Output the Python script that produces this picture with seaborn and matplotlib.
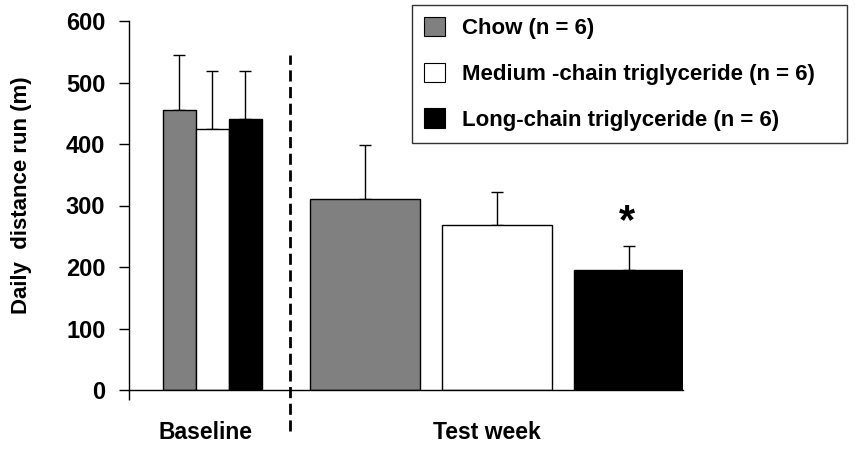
import matplotlib
matplotlib.use("Agg")
import matplotlib.pyplot as plt
import matplotlib.patches as mpatches
import seaborn as sns
import pandas as pd

# values (mean and upward SEM)
diets = ["Chow (n = 6)", "Medium -chain triglyceride (n = 6)", "Long-chain triglyceride (n = 6)"]
colors = ["#808080", "#ffffff", "#000000"]
baseline_mean = [455, 425, 441]
baseline_err = [90, 94, 77]
test_mean = [311, 269, 195]
test_err = [88, 53, 39]
phases = ["Baseline", "Test week"]

sns.set_theme(style="white")
plt.rcParams["font.family"] = ["Liberation Sans", "DejaVu Sans"]
plt.rcParams["font.weight"] = "bold"
for key in ["text.color", "axes.labelcolor", "xtick.color", "ytick.color"]:
    plt.rcParams[key] = "black"

# layout: x units are pixels from the y axis
phase_center = {"Baseline": 83, "Test week": 368}
phase_step = {"Baseline": 33, "Test week": 132}
phase_width = {"Baseline": 33, "Test week": 110}

rows = []
for phase, means, errs in [("Baseline", baseline_mean, baseline_err),
                           ("Test week", test_mean, test_err)]:
    for i, (d, m, e) in enumerate(zip(diets, means, errs)):
        rows.append({"phase": phase, "diet": d, "value": m, "err": e,
                     "pos": phase_center[phase] + (i - 1) * phase_step[phase]})
df = pd.DataFrame(rows)

fig = plt.figure(figsize=(8.55, 4.55), dpi=100)
ax = fig.add_axes([129 / 855, 65 / 455, 554 / 855, 369 / 455])

pal = dict(zip(diets, colors))
for phase in phases:
    sub = df[df.phase == phase]
    for _, r in sub.iterrows():
        ax.bar(r.pos, r.value, width=phase_width[phase], color=pal[r.diet],
               edgecolor="black", linewidth=1, zorder=2)
    ax.errorbar(sub.pos, sub.value, yerr=[[0] * len(sub), sub.err], fmt="none",
                ecolor="black", elinewidth=1, capsize=4.5, capthick=1, zorder=1)

# significance marker over the long-chain test-week bar
lct = df[(df.phase == "Test week") & (df.diet == diets[2])].iloc[0]
ax.text(lct.pos - 2, lct.value + lct.err + 6, "*", ha="center", va="bottom",
        fontsize=30, fontweight="bold")

ax.set_xlim(0, 554)
ax.set_ylim(0, 600)
ax.set_yticks(range(0, 601, 100))
ax.set_xticks([0])
ax.set_xticklabels([""])
ax.tick_params(axis="y", direction="out", length=7, width=1, color="black",
               labelsize=17, pad=10, left=True, labelcolor="black")
ax.tick_params(axis="x", direction="out", length=7, width=1, color="black", bottom=True)
for lab in ax.get_yticklabels():
    lab.set_fontweight("bold")
ax.set_ylabel("Daily  distance run (m)", fontsize=16, fontweight="bold", color="black")
ax.yaxis.set_label_coords(-0.175, 0.528)
sns.despine(ax=ax)
for s in ["left", "bottom"]:
    ax.spines[s].set_color("black")
    ax.spines[s].set_linewidth(1)

# group labels and divider
ax.text(phase_center["Baseline"] - 7, -69, "Baseline", ha="center", va="center",
        fontsize=16.5, fontweight="bold", color="black", clip_on=False)
ax.text(phase_center["Test week"] - 10, -69, "Test week", ha="center", va="center",
        fontsize=16.5, fontweight="bold", color="black", clip_on=False)
ax.plot([161, 161], [-66, 544], color="black", linestyle=(0, (4, 2)), linewidth=2,
        clip_on=False)

handles = [mpatches.Patch(facecolor=c, edgecolor="black", linewidth=0.8) for c in colors]
leg = fig.legend(handles, diets, loc="upper left",
                 bbox_to_anchor=(412 / 855, 1 - 5 / 455, 435 / 855, 0), mode="expand",
                 frameon=True, fancybox=False, shadow=False, fontsize=16,
                 handlelength=0.95, handleheight=0.95, handletextpad=0.75,
                 labelspacing=1.05, borderpad=0.55, borderaxespad=0)
leg.get_frame().set_edgecolor("black")
leg.get_frame().set_linewidth(1)
for t in leg.get_texts():
    t.set_fontweight("bold")
    t.set_color("black")

fig.savefig("out.png", dpi=100, facecolor="white")
